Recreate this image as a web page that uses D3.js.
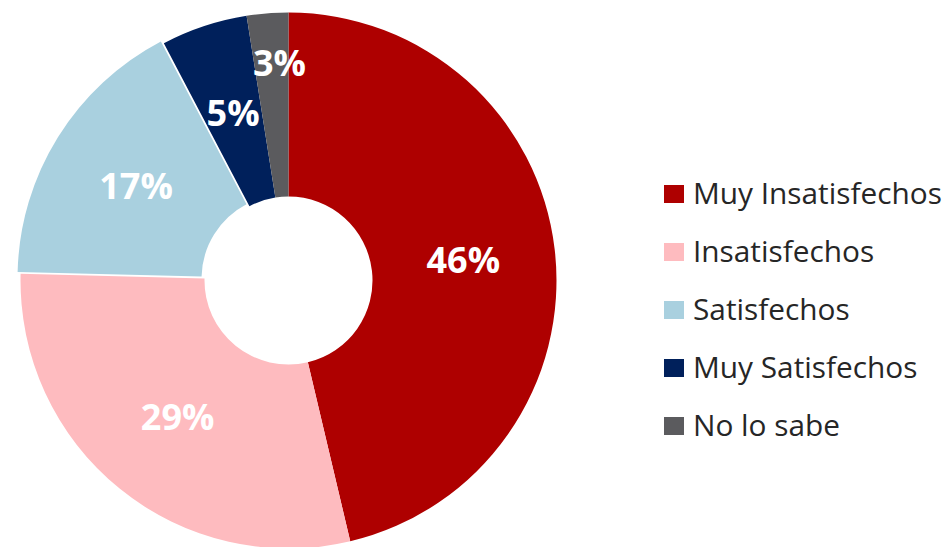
<!DOCTYPE html>
<html>
<head>
<meta charset="utf-8">
<script src="https://cdn.jsdelivr.net/npm/d3@7"></script>
<style>
  body { margin: 0; background: #fff; }
  svg { display: block; }
</style>
</head>
<body>
<div id="chart"></div>
<script>
// values (percent), labels as printed
var categories = ["Muy Insatisfechos", "Insatisfechos", "Satisfechos", "Muy Satisfechos", "No lo sabe"];
var values = [46.3, 29.1, 16.9, 5.2, 2.5];
var labels = ["46%", "29%", "17%", "5%", "3%"];
var colors = ["#AE0000", "#FEBBBF", "#A9D0DF", "#00205B", "#5B5B5E"];

var width = 949, height = 547;
var cx = 288.5, cy = 280.5;
var outer = 268, inner = 84;

var svg = d3.select("#chart")
  .append("svg")
  .attr("width", width)
  .attr("height", height);

var pie = d3.pie().sort(null).value(d => d);
var arcs = pie(values);

var arc = d3.arc().innerRadius(inner).outerRadius(outer);

var g = svg.append("g")
  .attr("transform", "translate(" + cx + "," + cy + ")");

// the Satisfechos slice is pulled out a little
function offset(d, i) {
  if (i != 2) return [0, 0];
  var a = (d.startAngle + d.endAngle) / 2;
  return [Math.sin(a) * 3.5, -Math.cos(a) * 3.5];
}

g.selectAll("path")
  .data(arcs)
  .join("path")
  .attr("d", arc)
  .attr("fill", (d, i) => colors[i])
  .attr("transform", (d, i) => "translate(" + offset(d, i) + ")");

g.selectAll("text.lbl")
  .data(arcs)
  .join("text")
  .attr("class", "lbl")
  .attr("transform", (d, i) => {
    var c = arc.centroid(d);
    // tiny slice label is pushed outwards so it does not collide
    if (values[i] < 4) {
      var a = (d.startAngle + d.endAngle) / 2;
      var r = outer - 50;
      c = [Math.sin(a) * r + 8, -Math.cos(a) * r];
    }
    var o = offset(d, i);
    return "translate(" + (c[0] + o[0]) + "," + (c[1] + o[1]) + ")";
  })
  .attr("text-anchor", "middle")
  .attr("dy", "0.36em")
  .style("font-family", "'Open Sans', sans-serif")
  .style("font-weight", "bold")
  .style("font-size", "36px")
  .style("fill", "#fff")
  .text((d, i) => labels[i]);

// legend
var legend = svg.append("g")
  .attr("transform", "translate(664,194)");

var rows = legend.selectAll("g")
  .data(categories)
  .join("g")
  .attr("transform", (d, i) => "translate(0," + (i * 58) + ")");

rows.append("rect")
  .attr("x", 0)
  .attr("y", -9)
  .attr("width", 20)
  .attr("height", 18)
  .attr("fill", (d, i) => colors[i]);

rows.append("text")
  .attr("x", 29)
  .attr("y", 0)
  .attr("dy", "0.35em")
  .style("font-family", "'Open Sans', sans-serif")
  .style("font-size", "29.8px")
  .style("fill", "#262626")
  .text(d => d);
</script>
</body>
</html>
